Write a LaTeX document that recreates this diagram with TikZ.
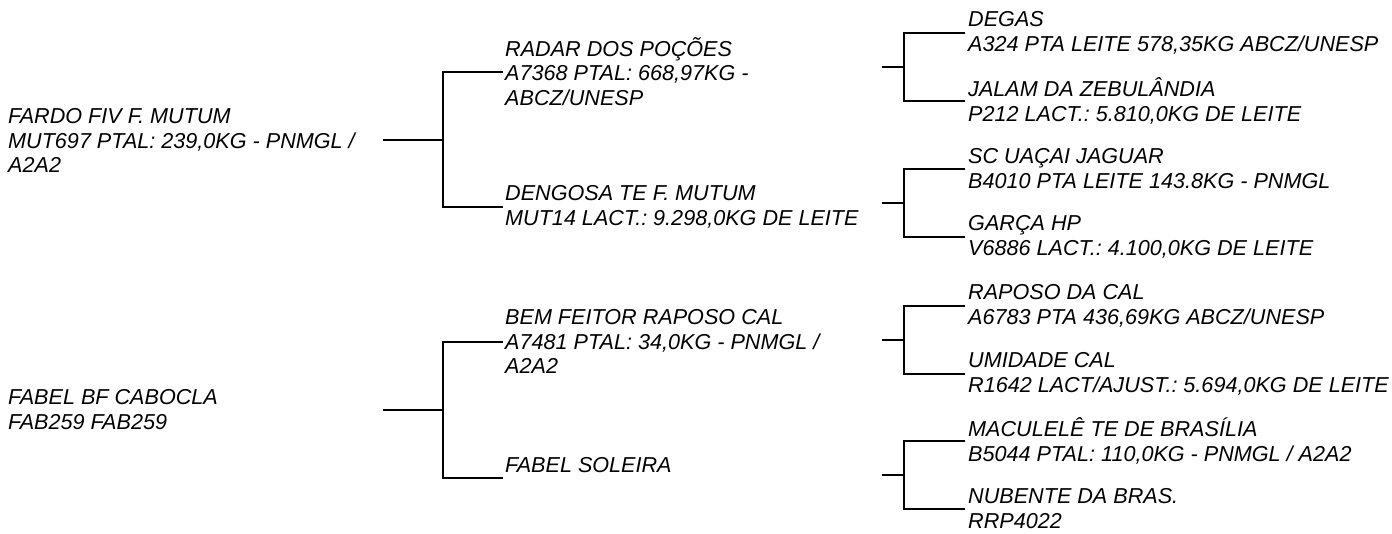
\documentclass[tikz,border=0pt]{standalone}
\usepackage{fontspec}
\setmainfont{Liberation Sans}
\frenchspacing
\newcommand\ms{\rule[-1pt]{0pt}{16pt}}
\begin{document}
\begin{tikzpicture}[x=1pt,y=-1pt,
  lbl/.style={anchor=west, inner ysep=0pt, inner xsep=0pt, align=left,
              font=\fontsize{21.6}{24.5}\selectfont\itshape\frenchspacing},
  lbltwo/.style={lbl, inner xsep=2pt},
  lblthree/.style={lbl, inner xsep=3pt},
  con/.style={line width=2.4pt, line join=miter}]
\useasboundingbox[fill=white] (0,0) rectangle (1392,534);

% generation 1
\node[lbl] (fardo) at (8,141) {\ms FARDO FIV F. MUTUM\\\ms MUT697 PTAL: 239,0KG - PNMGL /\\\ms A2A2};
\node[lbl] (fabel) at (8,410) {\ms FABEL BF CABOCLA\\\ms FAB259 FAB259};

% generation 2
\node[lbltwo] (radar) at (503,72) {\ms RADAR DOS POÇÕES\\\ms A7368 PTAL: 668,97KG -\\\ms ABCZ/UNESP};
\node[lbltwo] (dengosa) at (503,207) {\ms DENGOSA TE F. MUTUM\\\ms MUT14 LACT.: 9.298,0KG DE LEITE};
\node[lbltwo] (bem) at (503,342) {\ms BEM FEITOR RAPOSO CAL\\\ms A7481 PTAL: 34,0KG - PNMGL /\\\ms A2A2};
\node[lbltwo] (soleira) at (503,478) {\ms FABEL SOLEIRA\\\ms};

% generation 3
\node[lblthree] (degas) at (965,33) {\ms DEGAS\\\ms A324 PTA LEITE 578,35KG ABCZ/UNESP};
\node[lblthree] (jalam) at (965,101) {\ms JALAM DA ZEBULÂNDIA\\\ms P212 LACT.: 5.810,0KG DE LEITE};
\node[lblthree] (uacai) at (965,169) {\ms SC UAÇAI JAGUAR\\\ms B4010 PTA LEITE 143.8KG - PNMGL};
\node[lblthree] (garca) at (965,237) {\ms GARÇA HP\\\ms V6886 LACT.: 4.100,0KG DE LEITE};
\node[lblthree] (raposo) at (965,306) {\ms RAPOSO DA CAL\\\ms A6783 PTA 436,69KG ABCZ/UNESP};
\node[lblthree] (umidade) at (965,374) {\ms UMIDADE CAL\\\ms R1642 LACT/AJUST.: 5.694,0KG DE LEITE};
\node[lblthree] (maculele) at (965,441) {\ms MACULELÊ TE DE BRASÍLIA\\\ms B5044 PTAL: 110,0KG - PNMGL / A2A2};
\node[lblthree] (nubente) at (965,509) {\ms NUBENTE DA BRAS.\\\ms RRP4022};

% junction coordinates
\coordinate (s1) at (383,140);
\coordinate (j1) at (443,140);
\coordinate (s2) at (383,410);
\coordinate (j2) at (443,410);
\coordinate (u1) at (882,67);  \coordinate (k1) at (904,67);
\coordinate (u2) at (882,203); \coordinate (k2) at (904,203);
\coordinate (u3) at (882,340); \coordinate (k3) at (904,340);
\coordinate (u4) at (882,475); \coordinate (k4) at (904,475);

% connectors
\draw[con] (s1) -- (j1);
\draw[con] (radar.west) -| (j1) |- (dengosa.west);
\draw[con] (s2) -- (j2);
\draw[con] (bem.west) -| (j2) |- (soleira.west);

\draw[con] (u1) -- (k1);
\draw[con] (degas.west) -| (k1) |- (jalam.west);
\draw[con] (u2) -- (k2);
\draw[con] (uacai.west) -| (k2) |- (garca.west);
\draw[con] (u3) -- (k3);
\draw[con] (raposo.west) -| (k3) |- (umidade.west);
\draw[con] (u4) -- (k4);
\draw[con] (maculele.west) -| (k4) |- (nubente.west);
\end{tikzpicture}
\end{document}
